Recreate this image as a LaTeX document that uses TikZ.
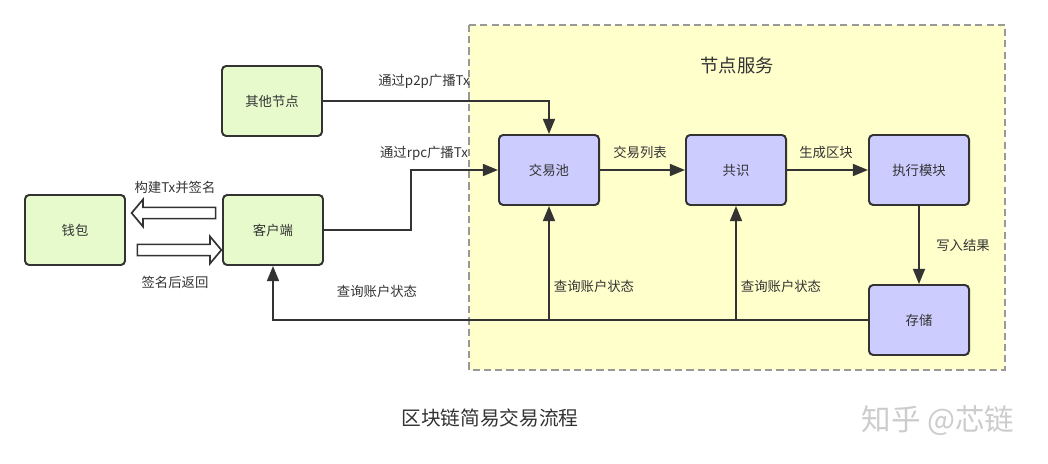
\documentclass[tikz,border=0pt]{standalone}
\usepackage{fontspec}
\setmainfont{Noto Sans CJK SC}
\usetikzlibrary{arrows.meta,shapes.arrows}
\definecolor{boxgreen}{HTML}{E6FACC}
\definecolor{boxblue}{HTML}{CCCCFF}
\definecolor{areayellow}{HTML}{FFFFCC}
\definecolor{linedark}{HTML}{333333}
\tikzstyle{greenbox} = [draw=linedark, line width=1.4pt, rounded corners=3pt, fill=boxgreen, minimum width=2.5cm, minimum height=1.75cm, font=\fontsize{9.5}{11}\selectfont, text=linedark]
\tikzstyle{bluebox} = [greenbox, fill=boxblue]
\tikzstyle{arrow} = [line width=1.4pt, draw=linedark, -{Triangle[length=0.38cm,width=0.3cm]}]
\tikzstyle{lbl} = [font=\fontsize{9.5}{11}\selectfont, text=linedark, inner sep=1pt]
\tikzstyle{fatarrow} = [single arrow, draw=linedark, line width=1.2pt, fill=white, minimum height=2.1cm, inner sep=0.12cm, single arrow head extend=0.2cm, single arrow tip angle=100]

\begin{document}
\begin{tikzpicture}[x=0.025cm, y=-0.025cm]
        \useasboundingbox (0,0) rectangle (1048,464);
        % service area
        \draw[dashed, draw=gray!80, fill=areayellow, line width=1.2pt, dash pattern=on 5pt off 3pt] (469,25) rectangle (1005,370);
        \node[font=\fontsize{13}{15}\selectfont, text=linedark] (title) at (737,66) {节点服务};

        % Node positions
        \node[greenbox] (other) at (272,101) {其他节点};
        \node[greenbox] (wallet) at (75,230) {钱包};
        \node[greenbox] (client) at (273,230) {客户端};
        \node[bluebox] (pool) at (549,170) {交易池};
        \node[bluebox] (cons) at (736,170) {共识};
        \node[bluebox] (exec) at (919,170) {执行模块};
        \node[bluebox] (store) at (919,320) {存储};

        \coordinate (rpcx) at (411,200);
        \coordinate (q1) at (pool |- store.west);
        \coordinate (q2) at (cons |- store.west);

        \draw[arrow] (other.east) -| (pool.north);
        \draw[arrow] (client.east) -| (rpcx) |- (pool.west);
        \draw[arrow] (pool) -- (cons);
        \draw[arrow] (cons) -- (exec);
        \draw[arrow] (exec) -- (store);
        \draw[arrow] (store.west) -| (client.south);
        \draw[arrow] (q1) -- (pool.south);
        \draw[arrow] (q2) -- (cons.south);

        % wallet and client
        \node[fatarrow, shape border rotate=180] (signarr) at (176,213) {};
        \node[fatarrow] (backarr) at (177,250) {};

        % labels
        \node[lbl] (p2plbl) at (424,81) {通过p2p广播Tx};
        \node[lbl] (rpclbl) at (424,153) {通过rpc广播Tx};
        \node[lbl] (listlbl) at (640,152) {交易列表};
        \node[lbl] (blocklbl) at (826,152) {生成区块};
        \node[lbl] (writelbl) at (963,245) {写入结果};
        \node[lbl] (qlbl) at (377,291) {查询账户状态};
        \node[lbl] (q1lbl) at (594,286) {查询账户状态};
        \node[lbl] (q2lbl) at (781,286) {查询账户状态};
        \node[lbl] (signlbl) at (175,187) {构建Tx并签名};
        \node[lbl] (backlbl) at (175,282) {签名后返回};

        \node[font=\fontsize{14}{16}\selectfont, text=linedark] (caption) at (490,418) {区块链简易交易流程};
        \node[font=\fontsize{21}{24}\selectfont, text=gray!40] (mark) at (938,421) {知乎 @芯链};
\end{tikzpicture}
\end{document}
